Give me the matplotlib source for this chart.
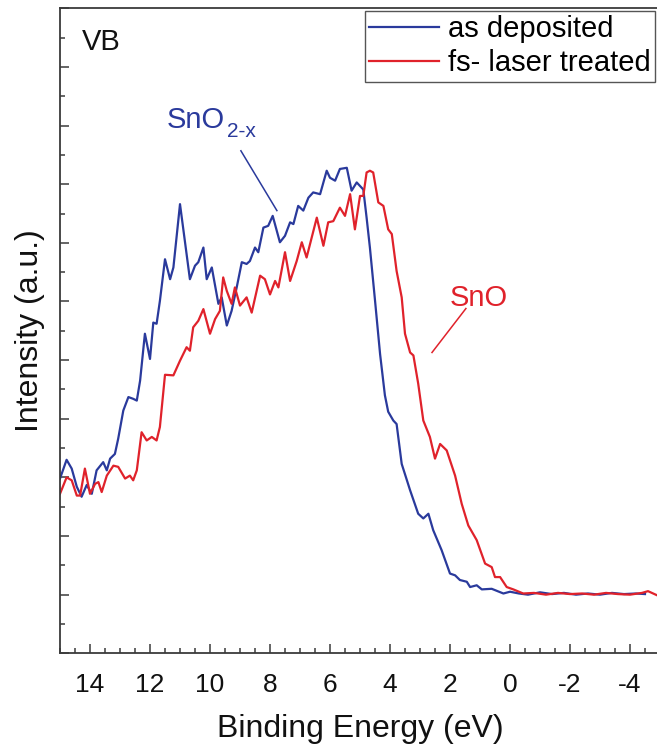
import matplotlib
matplotlib.use("Agg")
import matplotlib.pyplot as plt
from matplotlib.ticker import MultipleLocator, NullFormatter

plt.rcParams['font.family'] = ['Liberation Sans', 'DejaVu Sans']

# ---- data (binding energy in eV, intensity in arbitrary units) ----
be_as_deposited = [15.0, 14.78, 14.61, 14.44, 14.28, 14.11, 13.94, 13.78, 13.56, 13.44,
                   13.33, 13.17, 13.06, 12.89, 12.72, 12.56, 12.44, 12.33, 12.17, 12.0,
                   11.89, 11.78, 11.67, 11.5, 11.33, 11.22, 11.0, 10.67, 10.5, 10.39,
                   10.22, 10.11, 9.94, 9.72, 9.61, 9.44, 9.28, 9.11, 8.94, 8.78,
                   8.67, 8.5, 8.39, 8.22, 8.06, 7.91, 7.67, 7.5, 7.33, 7.22,
                   7.06, 6.89, 6.72, 6.56, 6.33, 6.11, 6.0, 5.83, 5.67, 5.44,
                   5.28, 5.11, 4.89, 4.78, 4.67, 4.5, 4.33, 4.17, 4.06, 3.89,
                   3.78, 3.61, 3.33, 3.06, 2.89, 2.72, 2.56, 2.28, 2.0, 1.83,
                   1.67, 1.44, 1.33, 1.11, 0.94, 0.61, 0.22, 0.0, -0.3, -0.6,
                   -1.0, -1.4, -1.8, -2.2, -2.6, -3.0, -3.4, -3.8, -4.2, -4.5]
int_as_deposited = [2.98, 3.30, 3.15, 2.84, 2.67, 2.87, 2.72, 3.12, 3.26, 3.12,
                    3.32, 3.40, 3.66, 4.14, 4.37, 4.34, 4.31, 4.65, 5.45, 5.02,
                    5.64, 5.62, 6.01, 6.72, 6.38, 6.58, 7.66, 6.38, 6.61, 6.67,
                    6.92, 6.38, 6.58, 5.96, 6.07, 5.59, 5.84, 6.24, 6.67, 6.64,
                    6.69, 6.92, 6.84, 7.26, 7.29, 7.46, 7.01, 7.12, 7.35, 7.32,
                    7.63, 7.55, 7.77, 7.86, 7.83, 8.23, 8.11, 8.06, 8.26, 8.28,
                    7.89, 8.03, 7.91, 7.43, 6.92, 6.02, 5.10, 4.40, 4.12, 3.97,
                    3.91, 3.23, 2.78, 2.38, 2.30, 2.38, 2.10, 1.76, 1.36, 1.33,
                    1.25, 1.22, 1.13, 1.16, 1.09, 1.10, 1.02, 1.05, 1.02, 1.00,
                    1.04, 1.01, 1.03, 1.00, 1.02, 1.00, 1.03, 1.01, 1.02, 1.01]

be_laser = [15.0, 14.78, 14.61, 14.44, 14.33, 14.17, 14.0, 13.83, 13.72, 13.61,
            13.44, 13.22, 13.06, 12.83, 12.67, 12.56, 12.44, 12.28, 12.11, 11.94,
            11.78, 11.67, 11.5, 11.22, 11.0, 10.78, 10.67, 10.56, 10.39, 10.22,
            10.0, 9.83, 9.67, 9.56, 9.44, 9.28, 9.17, 9.0, 8.78, 8.61,
            8.33, 8.17, 8.0, 7.83, 7.72, 7.5, 7.33, 7.11, 6.94, 6.78,
            6.44, 6.22, 6.06, 5.89, 5.67, 5.5, 5.33, 5.17, 5.0, 4.89,
            4.78, 4.67, 4.56, 4.39, 4.22, 4.06, 3.94, 3.78, 3.61, 3.5,
            3.33, 3.22, 3.06, 2.89, 2.67, 2.5, 2.33, 2.11, 1.83, 1.61,
            1.39, 1.11, 0.83, 0.61, 0.5, 0.33, 0.11, -0.11, -0.44, -0.8,
            -1.2, -1.6, -2.0, -2.4, -2.8, -3.2, -3.6, -4.0, -4.4, -4.6,
            -4.9, -5.0]
int_laser = [2.72, 3.00, 2.95, 2.69, 2.69, 3.15, 2.72, 2.89, 2.92, 2.75,
             3.03, 3.20, 3.18, 2.98, 3.03, 2.95, 3.12, 3.77, 3.63, 3.69,
             3.63, 3.86, 4.75, 4.74, 4.99, 5.22, 5.16, 5.56, 5.67, 5.87,
             5.45, 5.70, 5.84, 6.41, 6.18, 5.96, 6.24, 5.93, 6.07, 5.81,
             6.44, 6.38, 6.12, 6.35, 6.24, 6.84, 6.35, 6.69, 7.01, 6.75,
             7.43, 6.95, 7.35, 7.37, 7.60, 7.46, 7.83, 7.23, 7.80, 7.80,
             8.20, 8.23, 8.20, 7.69, 7.63, 7.23, 7.15, 6.52, 6.07, 5.45,
             5.13, 5.08, 4.60, 3.97, 3.69, 3.32, 3.57, 3.46, 3.03, 2.55,
             2.18, 1.93, 1.53, 1.47, 1.30, 1.30, 1.13, 1.09, 1.02, 1.03,
             1.00, 1.03, 1.01, 1.02, 1.00, 1.03, 1.01, 1.00, 1.03, 1.06,
             0.99, 0.97]

x_ticks = [14, 12, 10, 8, 6, 4, 2, 0, -2, -4]
x_tick_labels = ['14', '12', '10', '8', '6', '4', '2', '0', '-2', '-4']
series_labels = ['as deposited', 'fs- laser treated']
blue = '#2a3a9c'
red = '#e0222b'

# ---- figure ----
W, H = 657, 749
fig = plt.figure(figsize=(W / 100, H / 100), dpi=100)
ax = fig.add_axes([60 / W, (H - 653.3) / H, 600 / W, 645 / H])

ax.plot(be_as_deposited, int_as_deposited, color=blue, lw=1.6, label=series_labels[0])
ax.plot(be_laser, int_laser, color=red, lw=1.6, label=series_labels[1])

ax.set_xlim(15, -5)
ax.set_ylim(0, 11)
ax.set_xticks(x_ticks)
ax.set_xticklabels(x_tick_labels)
ax.xaxis.set_minor_locator(MultipleLocator(0.5))
ax.yaxis.set_major_locator(MultipleLocator(1))
ax.yaxis.set_minor_locator(MultipleLocator(0.5))
ax.yaxis.set_major_formatter(NullFormatter())

spine_c = '#3a3a3a'
for s in ax.spines.values():
    s.set_linewidth(1.3)
    s.set_color(spine_c)
ax.tick_params(which='both', direction='in', color=spine_c, width=1.1)
ax.tick_params(which='major', length=6.5)
ax.tick_params(which='minor', length=3.6)
ax.tick_params(axis='x', which='major', labelsize=19, pad=14, labelcolor='#111')
ax.tick_params(axis='y', which='both', labelleft=False)

ax.set_xlabel('Binding Energy (eV)', fontsize=23, color='#111')
ax.xaxis.set_label_coords(0.5, (653.3 - 714) / 645)
ax.set_ylabel('Intensity (a.u.)', fontsize=23, color='#111')
ax.yaxis.set_label_coords((45 - 60) / 600, 0.5)

leg = ax.legend(loc='upper right', bbox_to_anchor=(655 / W, (H - 11) / H),
                bbox_transform=fig.transFigure, frameon=True, fancybox=False,
                edgecolor='#555555', framealpha=1, borderaxespad=0,
                handlelength=2.4, handletextpad=0.3, labelspacing=0.2,
                borderpad=0.15, fontsize=21)
leg.get_frame().set_linewidth(1.0)

# annotations (data coordinates)
ax.text(14.27, 10.29, 'VB', fontsize=21, color='#111', ha='left', va='baseline')
ax.text(11.44, 8.96, 'SnO', fontsize=21, color=blue, ha='left', va='baseline')
ax.text(9.42, 8.80, '2-x', fontsize=15, color=blue, ha='left', va='baseline')
ax.plot([8.97, 7.77], [8.57, 7.55], color=blue, lw=1.1)
ax.text(2.0, 5.93, 'SnO', fontsize=21, color=red, ha='left', va='baseline')
ax.plot([1.47, 2.6], [5.88, 5.13], color=red, lw=1.1)

fig.savefig('out.png', dpi=100)
